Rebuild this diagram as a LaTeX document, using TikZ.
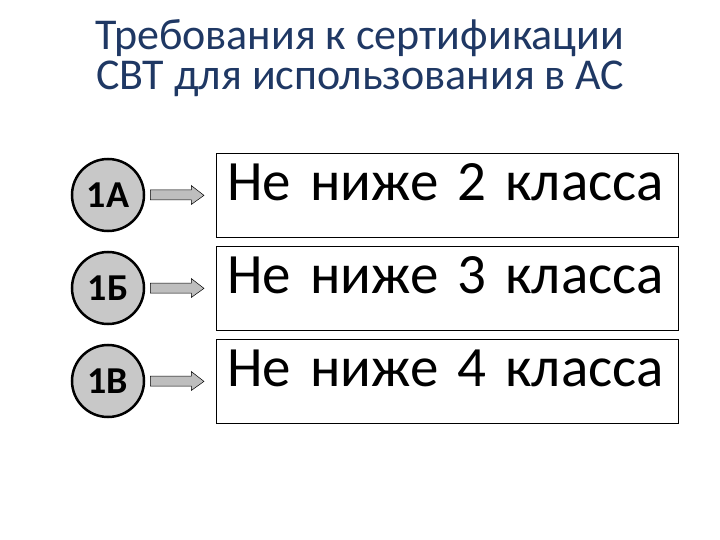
\documentclass[tikz,border=0pt]{standalone}
\usepackage{fontspec}
\setmainfont{Carlito}
\newfontfamily\classfont{Carlito}[WordSpace=0.8]
\usetikzlibrary{positioning,calc}
\definecolor{titleblue}{RGB}{31,56,100}
\definecolor{circgray}{RGB}{200,200,200}
\definecolor{arrgray}{RGB}{190,190,190}

\begin{document}
\begin{tikzpicture}[x=1pt,y=-1pt,
    levelnode/.style={draw,circle,line width=2.5pt,fill=circgray,minimum size=72pt,inner sep=0pt,font=\fontsize{38}{42}\selectfont\bfseries},
    classbox/.style={draw,line width=0.8pt,anchor=north west,inner xsep=11pt,inner ysep=0pt,text width=440pt,align=left,text height=47pt,text depth=37pt,font=\classfont\fontsize{57}{62}\selectfont},
    blockarr/.style={draw,fill=arrgray,line width=0.5pt,line join=miter},
    headline/.style={anchor=base,text=titleblue,font=\fontsize{44}{46}\selectfont}
  ]
  \useasboundingbox (0,0) rectangle (720,540);

  % the title
  \node[headline] (title1) at (360,50) {Требования к сертификации};
  \node[headline] (title2) at (360,90) {СВТ для использования в АС};

  % the levels and their classes
  \foreach \lab/\cls [count=\i] in {1А/2,1Б/3,1В/4} {
    \pgfmathsetmacro{\ytop}{153+93*(\i-1)}
    \node[classbox] (b\i) at (216,\ytop) {\mbox{Не ниже \cls\ класса}};
    \node[levelnode] (c\i) at (108,\ytop+42) {\lab};
    % block arrow from the level to its class
    \draw[blockarr] ($(c\i.east)+(5,-5)$) -- ++(41,0) -- ++(0,-4.5) -- ($(b\i.west)+(-12,0)$)
      -- ($(c\i.east)+(46,9.5)$) -- ++(0,-4.5) -- ++(-41,0) -- cycle;
  }
\end{tikzpicture}
\end{document}
